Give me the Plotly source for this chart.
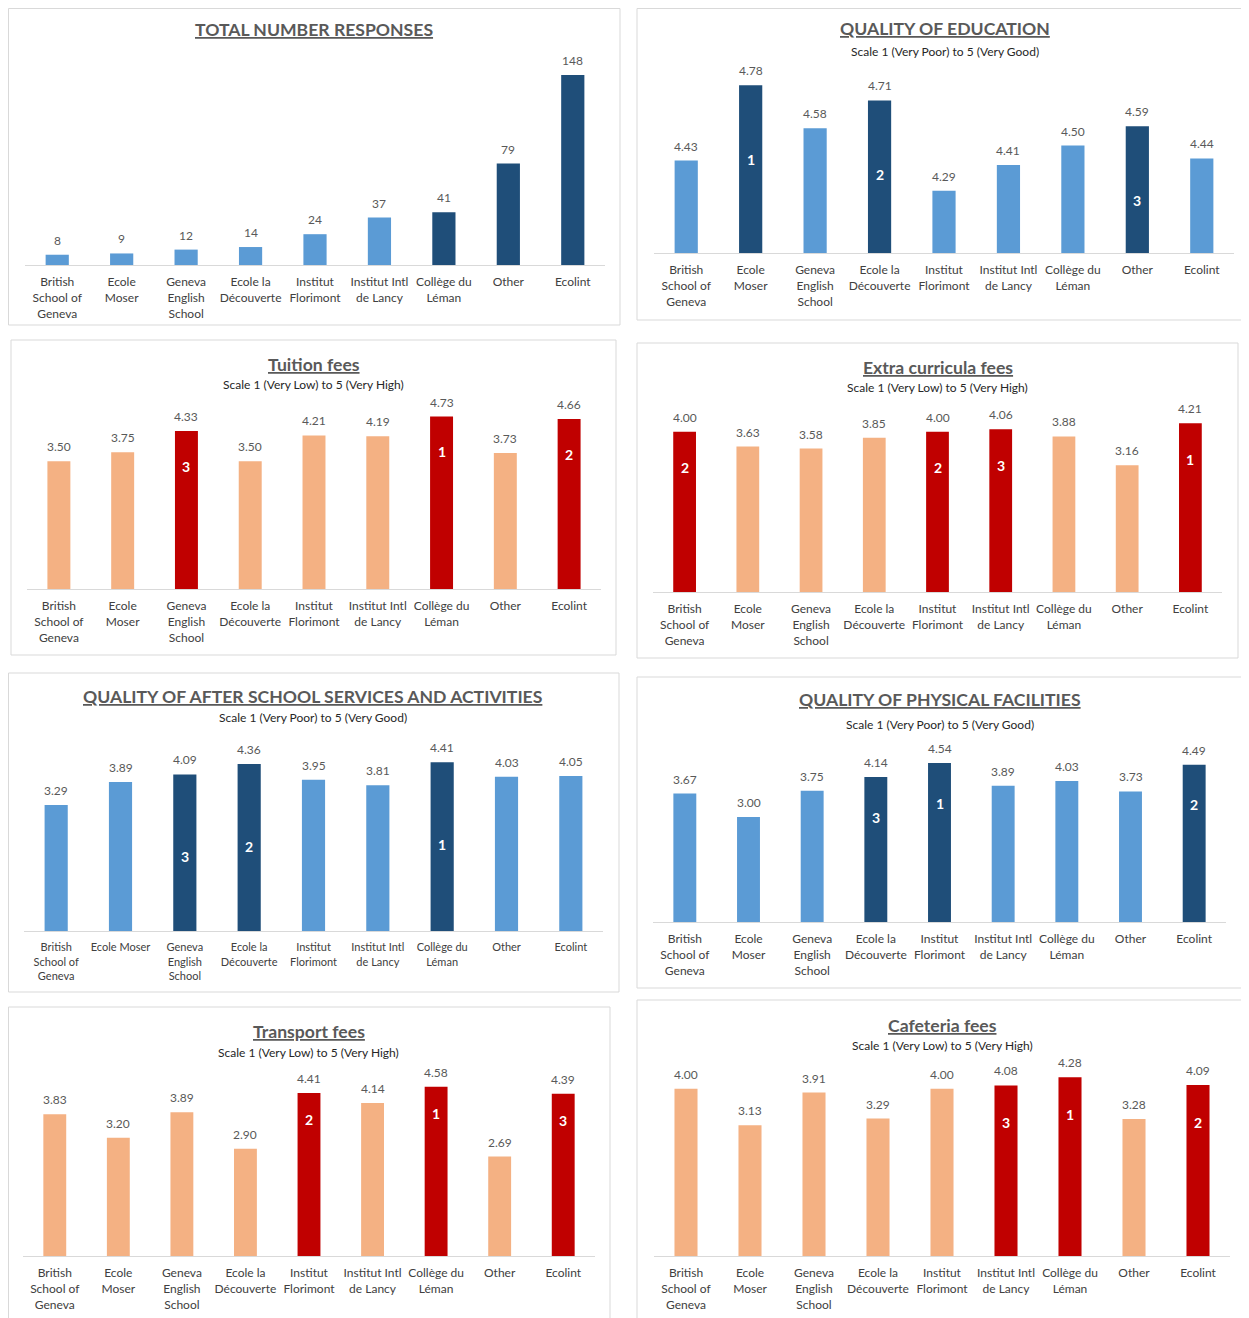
import plotly.graph_objects as go

W, H = 1249, 1318
PAGE_MARGIN = 8  # default body margin of the html page
FW, FH = W - PAGE_MARGIN, H - PAGE_MARGIN

# ---------------- data ----------------
schools = ["British School of Geneva", "Ecole Moser", "Geneva English School",
           "Ecole la Découverte", "Institut Florimont", "Institut Intl de Lancy",
           "Collège du Léman", "Other", "Ecolint"]
tick_labels = ["British<br>School of<br>Geneva", "Ecole<br>Moser", "Geneva<br>English<br>School",
               "Ecole la<br>Découverte", "Institut<br>Florimont", "Institut Intl<br>de Lancy",
               "Collège du<br>Léman", "Other", "Ecolint"]
tick_labels_after = ["British<br>School of<br>Geneva", "Ecole Moser", "Geneva<br>English<br>School",
                     "Ecole la<br>Découverte", "Institut<br>Florimont", "Institut Intl<br>de Lancy",
                     "Collège du<br>Léman", "Other", "Ecolint"]

total_responses = [8, 9, 12, 14, 24, 37, 41, 79, 148]
total_highlight = [False, False, False, False, False, False, True, True, True]

quality_education = [4.43, 4.78, 4.58, 4.71, 4.29, 4.41, 4.50, 4.59, 4.44]
quality_education_rank = ["", "1", "", "2", "", "", "", "3", ""]

tuition_fees = [3.50, 3.75, 4.33, 3.50, 4.21, 4.19, 4.73, 3.73, 4.66]
tuition_fees_rank = ["", "", "3", "", "", "", "1", "", "2"]

extra_fees = [4.00, 3.63, 3.58, 3.85, 4.00, 4.06, 3.88, 3.16, 4.21]
extra_fees_rank = ["2", "", "", "", "2", "3", "", "", "1"]

after_school = [3.29, 3.89, 4.09, 4.36, 3.95, 3.81, 4.41, 4.03, 4.05]
after_school_rank = ["", "", "3", "2", "", "", "1", "", ""]

physical_facilities = [3.67, 3.00, 3.75, 4.14, 4.54, 3.89, 4.03, 3.73, 4.49]
physical_facilities_rank = ["", "", "", "3", "1", "", "", "", "2"]

transport_fees = [3.83, 3.20, 3.89, 2.90, 4.41, 4.14, 4.58, 2.69, 4.39]
transport_fees_rank = ["", "", "", "", "2", "", "1", "", "3"]

cafeteria_fees = [4.00, 3.13, 3.91, 3.29, 4.00, 4.08, 4.28, 3.28, 4.09]
cafeteria_fees_rank = ["", "", "", "", "", "3", "1", "", "2"]

SUB_GOOD = "Scale 1 (Very Poor) to 5 (Very Good)"
SUB_HIGH = "Scale 1 (Very Low) to 5 (Very High)"

# ---------------- styles ----------------
LIGHT_BLUE, DARK_BLUE = "#5B9BD5", "#1F4E79"
LIGHT_OR, RED = "#F4B183", "#C00000"
FONT = "Lato, 'Open Sans', sans-serif"

panels = [
    dict(title="TOTAL NUMBER RESPONSES", sub=None, values=total_responses,
         highlight=total_highlight, rank=None, fmt="{:d}", pal=(LIGHT_BLUE, DARK_BLUE),
         box=(7, 5, 620, 325), xd=(25, 605), base=265, top=60, yr=(0, 159.7),
         ty=30, sy=None, off=0, ticks=tick_labels, tfs=12),
    dict(title="QUALITY OF EDUCATION", sub=SUB_GOOD, values=quality_education,
         rank=quality_education_rank, fmt="{:.2f}", pal=(LIGHT_BLUE, DARK_BLUE),
         box=(637, 5, 1252, 320), xd=(654, 1234), base=253, top=60, yr=(4.0, 4.898),
         ty=29, sy=52, off=74, ticks=tick_labels, tfs=12),
    dict(title="Tuition fees", sub=SUB_HIGH, values=tuition_fees,
         rank=tuition_fees_rank, fmt="{:.2f}", pal=(LIGHT_OR, RED),
         box=(11, 340, 616, 655), xd=(27, 601), base=589, top=395, yr=(0, 5.32),
         ty=364, sy=385, off=35, ticks=tick_labels, tfs=12),
    dict(title="Extra curricula fees", sub=SUB_HIGH, values=extra_fees,
         rank=extra_fees_rank, fmt="{:.2f}", pal=(LIGHT_OR, RED),
         box=(637, 343, 1238, 658), xd=(653, 1222), base=592, top=400, yr=(0, 4.79),
         ty=367, sy=387, off=36, ticks=tick_labels, tfs=12),
    dict(title="QUALITY OF AFTER SCHOOL SERVICES AND ACTIVITIES", sub=SUB_GOOD, values=after_school,
         rank=after_school_rank, fmt="{:.2f}", pal=(LIGHT_BLUE, DARK_BLUE),
         box=(7, 673, 619, 992), xd=(24, 603), base=931, top=740, yr=(0, 4.99),
         ty=697, sy=717, off=82, ticks=tick_labels_after, tfs=11),
    dict(title="QUALITY OF PHYSICAL FACILITIES", sub=SUB_GOOD, values=physical_facilities,
         rank=physical_facilities_rank, fmt="{:.2f}", pal=(LIGHT_BLUE, DARK_BLUE),
         box=(637, 677, 1242, 988), xd=(653, 1226), base=922, top=740, yr=(0, 5.2),
         ty=700, sy=724, off=40, ticks=tick_labels, tfs=12),
    dict(title="Transport fees", sub=SUB_HIGH, values=transport_fees,
         rank=transport_fees_rank, fmt="{:.2f}", pal=(LIGHT_OR, RED),
         box=(7, 1007, 610, 1325), xd=(23, 595), base=1256, top=1070, yr=(0, 5.03),
         ty=1031, sy=1052, off=27, ticks=tick_labels, tfs=12),
    dict(title="Cafeteria fees", sub=SUB_HIGH, values=cafeteria_fees,
         rank=cafeteria_fees_rank, fmt="{:.2f}", pal=(LIGHT_OR, RED),
         box=(637, 1000, 1247, 1325), xd=(654, 1230), base=1256, top=1060, yr=(0, 4.69),
         ty=1025, sy=1045, off=37, ticks=tick_labels, tfs=12),
]


def px(x):
    return (x - PAGE_MARGIN) / FW


def py(y):
    return 1 - (y - PAGE_MARGIN) / FH


fig = go.Figure()
annotations = []
shapes = []
layout = {}

for i, p in enumerate(panels):
    n = i + 1
    xa = "x" if n == 1 else f"x{n}"
    ya = "y" if n == 1 else f"y{n}"
    xkey = "xaxis" if n == 1 else f"xaxis{n}"
    ykey = "yaxis" if n == 1 else f"yaxis{n}"
    light, dark = p["pal"]
    if p["rank"] is not None:
        hl = [r != "" for r in p["rank"]]
    else:
        hl = p["highlight"]
    colors = [dark if h else light for h in hl]

    fig.add_trace(go.Bar(x=schools, y=p["values"], marker=dict(color=colors, line=dict(width=0)),
                         xaxis=xa, yaxis=ya, showlegend=False, hoverinfo="x+y"))

    layout[xkey] = dict(domain=[px(p["xd"][0]), px(p["xd"][1])], anchor=ya, type="category",
                        range=[-0.5, 8.5], tickvals=schools, ticktext=p["ticks"],
                        showline=True, linecolor="#D9D9D9", linewidth=1, showgrid=False,
                        zeroline=False, ticks="", ticklabelstandoff=6,
                        tickfont=dict(family=FONT, size=p["tfs"], color="#404040"),
                        fixedrange=True)
    layout[ykey] = dict(domain=[py(p["base"]), py(p["top"])], anchor=xa, range=list(p["yr"]),
                        visible=False, showgrid=False, zeroline=False, fixedrange=True)

    # value labels above bars
    for s, v in zip(schools, p["values"]):
        annotations.append(dict(x=s, y=v, xref=xa, yref=ya, text=p["fmt"].format(v),
                                showarrow=False, yanchor="bottom", yshift=5,
                                font=dict(family=FONT, size=12, color="#595959")))
    # rank labels inside bars
    if p["rank"] is not None:
        for s, v, r in zip(schools, p["values"], p["rank"]):
            if r:
                annotations.append(dict(x=s, y=v, xref=xa, yref=ya, text=f"<b>{r}</b>",
                                        showarrow=False, yanchor="middle", yshift=-p["off"],
                                        font=dict(family=FONT, size=14, color="white")))

    bx0, by0, bx1, by1 = p["box"]
    cx = (bx0 + bx1) / 2
    annotations.append(dict(x=px(cx), y=py(p["ty"]), xref="paper", yref="paper",
                            text=f"<b>{p['title']}</b>", showarrow=False,
                            xanchor="center", yanchor="middle",
                            font=dict(family=FONT, size=17.6, color="#595959", lineposition="under")))
    if p["sub"]:
        annotations.append(dict(x=px(cx), y=py(p["sy"]), xref="paper", yref="paper",
                                text=p["sub"], showarrow=False, xanchor="center", yanchor="middle",
                                font=dict(family=FONT, size=12, color="#262626")))
    # keep panel borders inside the drawable area
    ex0 = max(bx0, PAGE_MARGIN + 0.5)
    ey0 = max(by0, PAGE_MARGIN + 0.5)
    shapes.append(dict(type="rect", xref="paper", yref="paper", x0=px(ex0), x1=px(bx1),
                       y0=py(by1), y1=py(ey0), line=dict(color="#D9D9D9", width=1),
                       fillcolor="rgba(0,0,0,0)", layer="below"))

fig.update_layout(width=FW, height=FH, margin=dict(l=0, r=0, t=0, b=0),
                  paper_bgcolor="white", plot_bgcolor="rgba(0,0,0,0)",
                  bargap=0.64, annotations=annotations, shapes=shapes,
                  font=dict(family=FONT), **layout)

fig.write_html("out.html")
